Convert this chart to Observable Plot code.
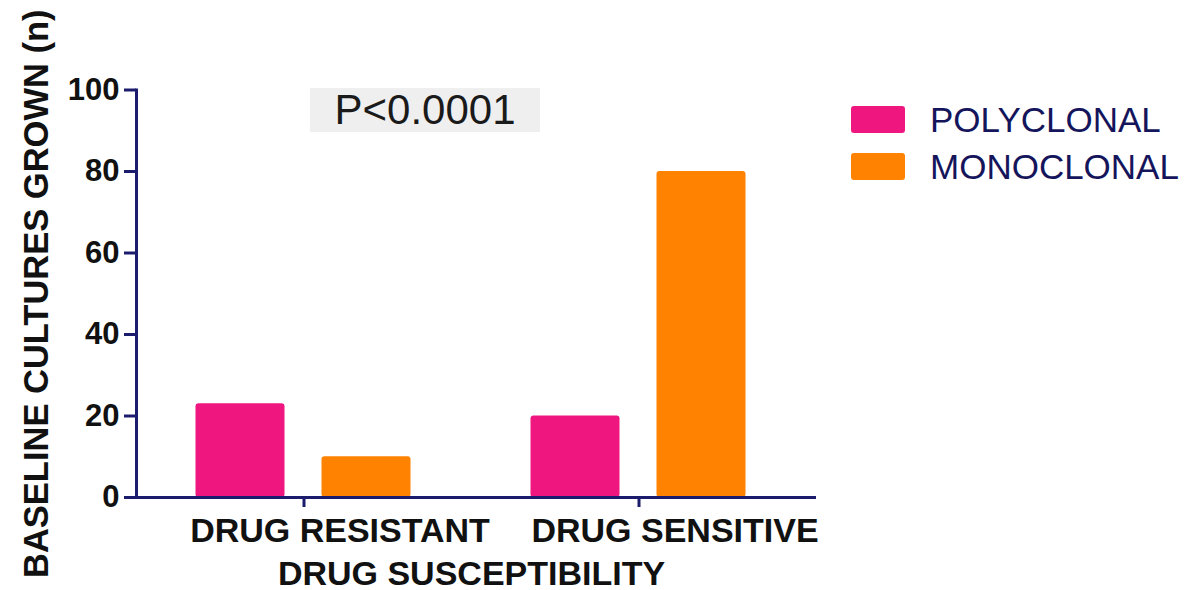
<!DOCTYPE html>
<html>
<head>
<meta charset="utf-8">
<script src="https://cdn.jsdelivr.net/npm/d3@7"></script>
<script src="https://cdn.jsdelivr.net/npm/@observablehq/plot@0.6"></script>
<style>
  body { margin: 0; background: #ffffff; font-family: "Liberation Sans", Arial, sans-serif; }
  #wrap { position: relative; width: 1190px; height: 590px; overflow: hidden; background: #ffffff; }
  #chart { position: absolute; left: 0; top: 0; }
  #pbox { position: absolute; left: 310px; top: 88px; width: 230px; height: 44px; background: #efefef;
          font-size: 42px; color: #1a1a1a; text-align: center; line-height: 44px; }
  .item { position: absolute; left: 851px; display: flex; align-items: center; height: 27px; }
  .sw { width: 54px; height: 27px; border-radius: 3px; margin-right: 25px; }
  .lab { font-size: 35px; line-height: 27px; color: #15155c; white-space: nowrap; }
</style>
</head>
<body>
<div id="wrap">
  <div id="chart"></div>
  <div id="pbox"></div>
  <div id="legend"></div>
</div>
<script>
// ---- data ----
const categories = ["DRUG RESISTANT", "DRUG SENSITIVE"];
const series = ["POLYCLONAL", "MONOCLONAL"];
const polyclonal = [23, 20];
const monoclonal = [10, 80];
const yTicks = [0, 20, 40, 60, 80, 100];
const seriesColors = ["#f0167f", "#ff8200"];
const yTitle = "BASELINE CULTURES GROWN (n)";
const xTitle = "DRUG SUSCEPTIBILITY";
const pText = "P<0.0001";

const navy = "#1c1c6e";
const data = categories.flatMap((c, i) => [
  {category: c, type: series[0], n: polyclonal[i]},
  {category: c, type: series[1], n: monoclonal[i]}
]);

const chart = Plot.plot({
  width: 830,
  height: 590,
  marginLeft: 135.5,
  marginRight: 24.5,
  marginTop: 89.5,
  marginBottom: 93,
  style: {fontFamily: "'Liberation Sans', Arial, sans-serif", color: navy, background: "transparent", overflow: "visible"},
  fx: {domain: categories, padding: 0},
  x: {domain: series, paddingInner: 0.29, paddingOuter: 0.47, axis: null},
  y: {domain: [0, 100]},
  color: {domain: series, range: seriesColors},
  marks: [
    Plot.barY(data, {fx: "category", x: "type", y: "n", fill: "type", rx: 3}),
    Plot.ruleY([0], {stroke: navy, strokeWidth: 3, insetRight: -10}),
    Plot.frame({anchor: "left", facetAnchor: "left", stroke: navy, strokeWidth: 3}),
    Plot.axisY({ticks: yTicks, tickSize: 12, tickPadding: 5, stroke: navy, strokeWidth: 3,
                fill: "#111", fontSize: 31, fontWeight: "bold", label: null}),
    Plot.axisY({ticks: yTicks, tickSize: 0, tickFormat: () => "", fill: "#111", fontSize: 34.5, fontWeight: "bold",
                label: yTitle, labelAnchor: "center", labelOffset: 113, labelArrow: "none"}),
    Plot.axisFx({anchor: "bottom", tickSize: 10, stroke: navy, strokeWidth: 3, fill: "none", label: null}),
    Plot.axisFx({anchor: "bottom", tickSize: 0, tickPadding: 20, dx: 36, fill: "#111", fontSize: 34, fontWeight: "bold", label: null}),
    Plot.axisFx({anchor: "bottom", tickSize: 0, tickFormat: () => "", fill: "#111", fontSize: 34, fontWeight: "bold",
                 label: xTitle, labelAnchor: "center", labelOffset: 87, labelArrow: "none"})
  ]
});
document.getElementById("chart").appendChild(chart);

document.getElementById("pbox").textContent = pText;
const legend = document.getElementById("legend");
series.forEach((s, i) => {
  const item = document.createElement("div");
  item.className = "item";
  item.style.top = (106 + i * 46.5) + "px";
  const sw = document.createElement("div");
  sw.className = "sw";
  sw.style.background = seriesColors[i];
  const lab = document.createElement("div");
  lab.className = "lab";
  lab.textContent = s;
  item.appendChild(sw);
  item.appendChild(lab);
  legend.appendChild(item);
});
</script>
</body>
</html>
